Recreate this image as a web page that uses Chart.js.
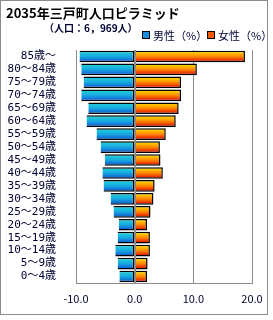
<!DOCTYPE html>
<html>
<head>
<meta charset="utf-8">
<script src="https://cdn.jsdelivr.net/npm/chart.js@4"></script>
<style>
  body { margin: 0; background: #fff; font-family: "Noto Sans CJK JP", sans-serif; }
  #wrap { position: relative; width: 273px; height: 320px; }
  #frame { position: absolute; left: 0; top: 0; width: 268px; height: 315px; border: 1px solid #8c8c8c; box-sizing: border-box; }
  canvas { position: absolute; left: 0; top: 0; }
  .t { position: absolute; white-space: nowrap; color: #000; }
  #title { left: 6px; top: 3px; font-size: 13px; font-weight: bold; }
  #sub { left: 44px; top: 20px; font-size: 10px; font-weight: bold; color: #000033; }
  .lg { position: absolute; top: 27px; font-size: 11px; color: #000033; white-space: nowrap; }
  .sq { display: inline-block; width: 6px; height: 6px; border: 1px solid #000; margin-right: 3px; vertical-align: 1px; }
</style>
</head>
<body>
<div id="wrap">
  <div id="frame"></div>
  <canvas id="chart" width="273" height="320"></canvas>
  <div class="t" id="title">2035年三戸町人口ピラミッド</div>
  <div class="t" id="sub">（人口：6，969人）</div>
  <div class="lg" style="left:142px"><span class="sq" style="background:#1a8fe0"></span>男性（%）</div>
  <div class="lg" style="left:207px"><span class="sq" style="background:#f05a00"></span>女性（%）</div>
</div>
<script>
// 年齢区分と男女別の構成比(%)
const ageGroups = ['85歳～', '80～84歳', '75～79歳', '70～74歳', '65～69歳', '60～64歳', '55～59歳',
  '50～54歳', '45～49歳', '40～44歳', '35～39歳', '30～34歳', '25～29歳', '20～24歳',
  '15～19歳', '10～14歳', '5～9歳', '0～4歳'];
const male = [9.4, 9.1, 8.7, 9.1, 7.9, 8.2, 6.5, 5.8, 5.1, 5.5, 5.3, 4.1, 3.6, 2.7, 2.9, 3.3, 2.9, 2.6];
const female = [18.8, 10.6, 7.9, 7.9, 7.5, 7.0, 5.3, 4.3, 4.4, 4.8, 3.4, 3.2, 2.7, 2.1, 2.6, 2.6, 2.2, 2.1];
const xTicks = [-10, 0, 10, 20];

function barGradient(ctx, top, bottom) {
  const chart = ctx.chart;
  const y = chart.scales && chart.scales.y;
  if (!chart.chartArea || !y) return top[1];
  const mid = y.getPixelForValue(ctx.dataIndex);
  const h = (chart.chartArea.bottom - chart.chartArea.top) / ageGroups.length * 0.9;
  const g = chart.ctx.createLinearGradient(0, mid - h / 2, 0, mid + h / 2);
  g.addColorStop(0, top[0]);
  g.addColorStop(0.5, top[1]);
  g.addColorStop(1, bottom);
  return g;
}

// 0の線は棒の上に描く
const zeroLine = {
  id: 'zeroLine',
  afterDatasetsDraw(chart) {
    const x = chart.scales.x.getPixelForValue(0);
    const c = chart.ctx;
    c.save();
    c.strokeStyle = '#8c8c8c';
    c.lineWidth = 1;
    c.beginPath();
    c.moveTo(Math.round(x) + 0.5, chart.chartArea.top);
    c.lineTo(Math.round(x) + 0.5, chart.chartArea.bottom);
    c.stroke();
    c.restore();
  }
};

new Chart(document.getElementById('chart'), {
  type: 'bar',
  data: {
    labels: ageGroups,
    datasets: [
      {
        label: '男性（%）',
        data: male.map(v => -v),
        backgroundColor: ctx => barGradient(ctx, ['#22d8d8', '#18a8e0'], '#0a50d0'),
        borderColor: '#000',
        borderWidth: 1.5,
        borderSkipped: 'right'
      },
      {
        label: '女性（%）',
        data: female,
        backgroundColor: ctx => barGradient(ctx, ['#ffe800', '#ff8800'], '#d80000'),
        borderColor: '#000',
        borderWidth: 1.5,
        borderSkipped: 'left'
      }
    ]
  },
  options: {
    indexAxis: 'y',
    responsive: false,
    animation: false,
    datasets: { bar: { categoryPercentage: 1, barPercentage: 0.9 } },
    layout: { padding: { left: 0, right: 21, top: 50, bottom: 12 } },
    plugins: { legend: { display: false }, tooltip: { enabled: false } },
    scales: {
      x: {
        min: -10, max: 20,
        afterBuildTicks: s => { s.ticks = xTicks.map(v => ({ value: v })); },
        afterFit: s => { s.height = 25; },
        grid: { color: '#8c8c8c', drawTicks: false, lineWidth: 1 },
        border: { color: '#8c8c8c' },
        ticks: {
          padding: 9,
          color: '#000033',
          font: { family: 'Noto Sans CJK JP', size: 11 },
          callback: v => v.toFixed(1)
        }
      },
      y: {
        stacked: true,
        afterFit: s => { s.width = 76; },
        grid: { display: false },
        border: { color: '#8c8c8c' },
        ticks: {
          autoSkip: false,
          padding: 12,
          color: '#000033',
          font: { family: "'DejaVu Sans Mono', 'Noto Sans CJK JP'", size: 11 }
        }
      }
    }
  },
  plugins: [zeroLine]
});
</script>
</body>
</html>
